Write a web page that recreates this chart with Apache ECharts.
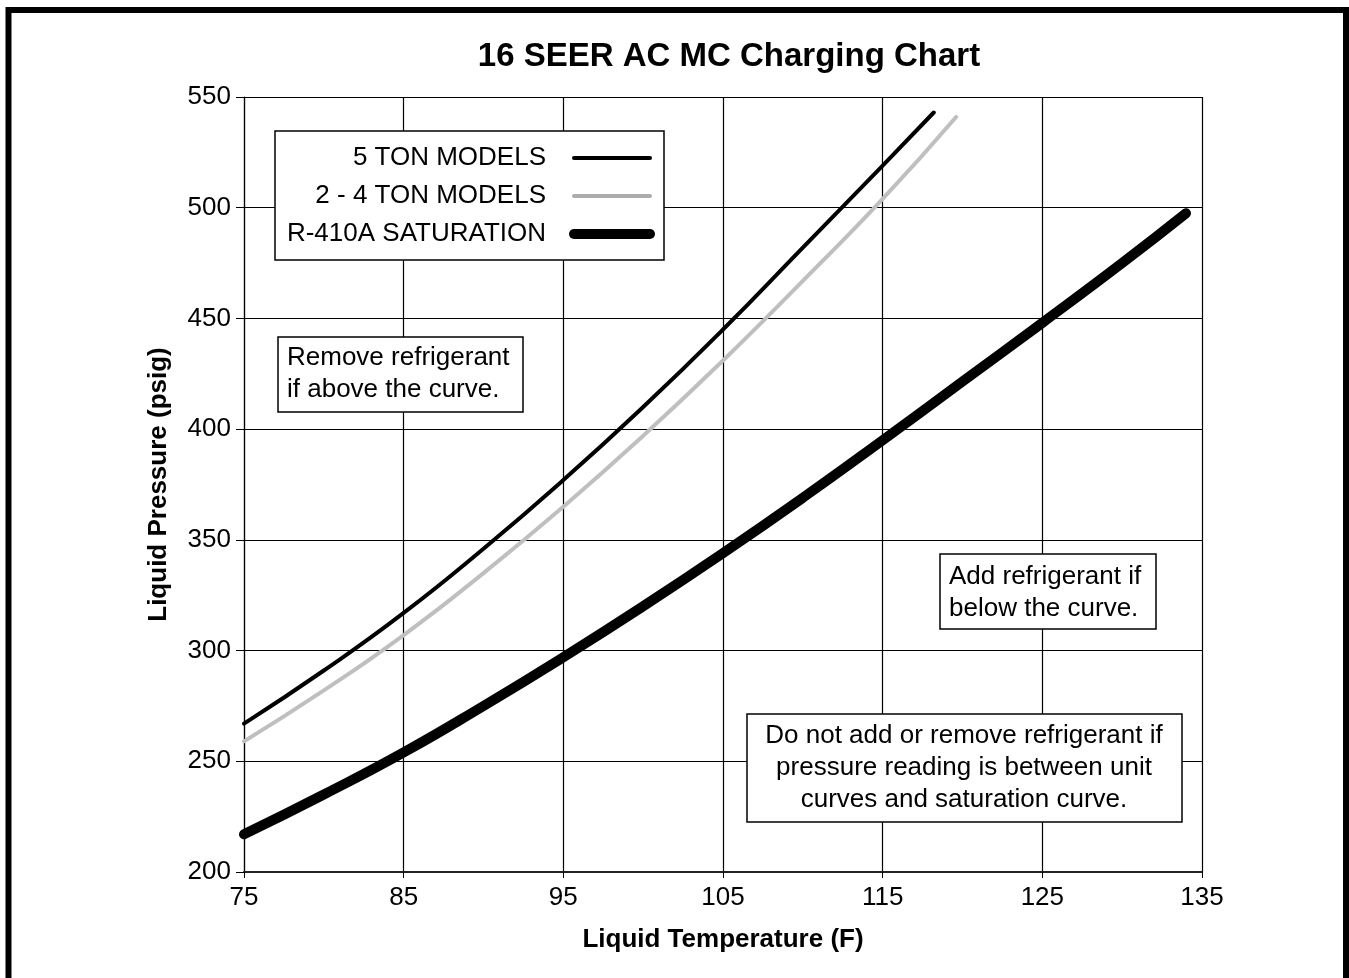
<!DOCTYPE html>
<html>
<head>
<meta charset="utf-8">
<script src="https://cdn.jsdelivr.net/npm/echarts@6/dist/echarts.min.js"></script>
<style>
  html, body { margin: 0; padding: 0; background: #fff; }
  #chart { width: 1349px; height: 978px; }
</style>
</head>
<body>
<div id="chart"></div>
<script>
// ---- data ----
const titleText = '16 SEER AC MC Charging Chart';
const xAxisName = 'Liquid Temperature (F)';
const yAxisName = 'Liquid Pressure (psig)';
const seriesNames = ['5 TON MODELS', '2 - 4 TON MODELS', 'R-410A SATURATION'];

const temp5Ton = [75, 80, 85, 90, 95, 100, 105, 110, 115, 118.2];
const press5Ton = [267, 291, 317, 346, 377, 410, 445, 482, 519, 543];

const temp24Ton = [75, 80, 85, 90, 95, 100, 105, 110, 115, 119.6];
const press24Ton = [259, 282, 307, 335, 365, 397, 431, 467, 504, 541];

const tempSat = [75, 80, 85, 90, 95, 100, 105, 110, 115, 120, 125, 130, 134];
const pressSat = [217, 235, 254, 275, 297, 320, 344, 369, 395, 421.5, 448, 475, 497.5];

const xTicks = [75, 85, 95, 105, 115, 125, 135];
const yTicks = [200, 250, 300, 350, 400, 450, 500, 550];

const noteRemove = 'Remove refrigerant\nif above the curve.';
const noteAdd = 'Add refrigerant if\nbelow the curve.';
const noteBetween = 'Do not add or remove refrigerant if\npressure reading is between unit\ncurves and saturation curve.';

// ---- chart ----
const FONT = '"Liberation Sans", Arial, Helvetica, sans-serif';
const zip = (xs, ys) => xs.map((x, i) => [x, ys[i]]);
const hiddenDot = { color: 'rgba(0,0,0,0)', borderWidth: 0, opacity: 0 };

const chart = echarts.init(document.getElementById('chart'), null, { renderer: 'canvas' });

const option = {
  animation: false,
  backgroundColor: '#fff',
  title: {
    text: titleText,
    left: 724, top: 35, textAlign: 'center',
    textStyle: { fontFamily: FONT, fontSize: 33, fontWeight: 'bold', color: '#000' }
  },
  grid: { left: 244, top: 97, right: 147, bottom: 106, containLabel: false },
  xAxis: {
    type: 'value', min: xTicks[0], max: xTicks[xTicks.length - 1], interval: 10,
    name: xAxisName, nameLocation: 'middle', nameGap: 55,
    nameTextStyle: { fontFamily: FONT, fontSize: 26, fontWeight: 'bold', color: '#000' },
    axisLine: { show: true, lineStyle: { color: '#222', width: 2 } },
    axisTick: { show: true, length: 6, lineStyle: { color: '#000', width: 1 } },
    axisLabel: { margin: 13, fontFamily: FONT, fontSize: 26, color: '#000' },
    splitLine: { show: true, lineStyle: { color: '#000', width: 1.2 } }
  },
  yAxis: {
    type: 'value', min: yTicks[0], max: yTicks[yTicks.length - 1], interval: 50,
    name: yAxisName, nameLocation: 'middle', nameGap: 72, nameRotate: 90,
    nameTextStyle: { fontFamily: FONT, fontSize: 26, fontWeight: 'bold', color: '#000' },
    axisLine: { show: true, lineStyle: { color: '#000', width: 1.2 } },
    axisTick: { show: true, length: 8, lineStyle: { color: '#000', width: 1 } },
    axisLabel: { margin: 13, fontFamily: FONT, fontSize: 26, color: '#000' },
    splitLine: { show: true, lineStyle: { color: '#000', width: 1.2 } }
  },
  legend: {
    orient: 'vertical', left: 275, top: 131,
    align: 'right', selectedMode: false,
    padding: [12, 9, 11, 9],
    backgroundColor: '#fff', borderColor: '#000', borderWidth: 1.5,
    itemWidth: 76, itemHeight: 14, itemGap: 8,
    textStyle: {
      fontFamily: FONT, fontSize: 26, color: '#000',
      width: 262, align: 'right', padding: [0, 23, 0, 0], lineHeight: 30
    },
    data: [
      { name: seriesNames[0], itemStyle: hiddenDot, lineStyle: { width: 4, color: '#000', cap: 'round' } },
      { name: seriesNames[1], itemStyle: hiddenDot, lineStyle: { width: 4, color: '#adadad', cap: 'round' } },
      { name: seriesNames[2], itemStyle: hiddenDot, lineStyle: { width: 10, color: '#000', cap: 'round' } }
    ]
  },
  graphic: [
    { type: 'rect', z: 10, shape: { x: 278, y: 337, width: 245, height: 75 },
      style: { fill: '#fff', stroke: '#000', lineWidth: 1.5 } },
    { type: 'text', z: 11, x: 287, y: 342,
      style: { text: noteRemove, fontFamily: FONT, fontSize: 26, lineHeight: 32, fill: '#000', align: 'left', verticalAlign: 'top' } },
    { type: 'rect', z: 10, shape: { x: 940, y: 554, width: 216, height: 75 },
      style: { fill: '#fff', stroke: '#000', lineWidth: 1.5 } },
    { type: 'text', z: 11, x: 949, y: 561,
      style: { text: noteAdd, fontFamily: FONT, fontSize: 26, lineHeight: 32, fill: '#000', align: 'left', verticalAlign: 'top' } },
    { type: 'rect', z: 10, shape: { x: 747, y: 714, width: 435, height: 108 },
      style: { fill: '#fff', stroke: '#000', lineWidth: 1.5 } },
    { type: 'text', z: 11, x: 964, y: 720,
      style: { text: noteBetween, fontFamily: FONT, fontSize: 26, lineHeight: 32, fill: '#000', align: 'center', verticalAlign: 'top' } },
    { type: 'rect', z: 100, shape: { x: 8.5, y: 10, width: 1337.5, height: 1000 },
      style: { fill: 'none', stroke: '#000', lineWidth: 6 } }
  ],
  series: [
    {
      name: seriesNames[2], type: 'line', smooth: 0.5, symbol: 'none', z: 3,
      data: zip(tempSat, pressSat),
      lineStyle: { color: '#000', width: 10, cap: 'round', join: 'round' }, itemStyle: { color: '#000' }
    },
    {
      name: seriesNames[1], type: 'line', smooth: 0.5, symbol: 'none', z: 4,
      data: zip(temp24Ton, press24Ton),
      lineStyle: { color: '#bfbfbf', width: 4, cap: 'round', join: 'round' }, itemStyle: { color: '#bfbfbf' }
    },
    {
      name: seriesNames[0], type: 'line', smooth: 0.5, symbol: 'none', z: 5,
      data: zip(temp5Ton, press5Ton),
      lineStyle: { color: '#000', width: 4, cap: 'round', join: 'round' }, itemStyle: { color: '#000' }
    }
  ]
};
chart.setOption(option);
</script>
</body>
</html>
